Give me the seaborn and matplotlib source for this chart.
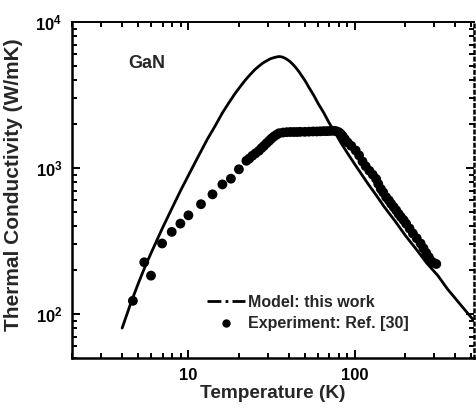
import numpy as np
import pandas as pd
import seaborn as sns
from matplotlib import pyplot as plt
from matplotlib.lines import Line2D

# model curve (T in K, kappa in W/mK)
model_T = [4.0, 4.5, 5.0, 5.5, 6.0, 7.0, 8.0, 9.0, 10.0, 11.5, 13.0, 14.5, 16.0, 17.5, 19.0,
           20.5, 22.0, 23.5, 25.0, 26.5, 28.0, 29.5, 31.0, 33.0, 35.0, 36.5, 38.0,
           39.5, 41.0, 42.5, 44.0, 46.0, 48.0, 50.5, 53.0, 56.5, 60.0, 65.0, 70.0,
           76.0, 82.0, 90.0, 100.0, 110.0, 120.0, 135.0, 150.0, 175.0, 200.0, 235.0,
           270.0, 315.0, 360.0, 430.0, 510.0]
model_k = [80, 118, 162, 212, 265, 390, 535, 705, 890, 1210, 1577, 1950, 2387, 2800, 3224,
           3620, 4015, 4370, 4710, 4990, 5240, 5430, 5600, 5730, 5810, 5770, 5660,
           5510, 5330, 5120, 4900, 4590, 4280, 3920, 3560, 3160, 2780, 2390, 2040,
           1750, 1503, 1270, 1057, 900, 778, 645, 542, 430, 347, 275,
           223, 183, 148, 116, 92]

# experimental points, Ref. [30]
exp_T = [4.64, 5.43, 5.96, 6.95, 7.94, 8.95, 10.0, 11.9, 13.95, 16.0, 18.0, 20.1,
         22.3, 23.2, 24.2, 25.3, 26.5, 27.5, 28.4, 29.5, 30.5, 31.5, 32.6, 33.8,
         35.0, 37.0, 39.0, 41.0, 43.0, 45.0, 47.0, 50.0, 53.0, 56.0, 59.0, 62.0,
         65.0, 68.0, 71.0, 74.0, 77.0, 80.0, 82.0, 84.3, 87.0, 90.4, 95.0, 101.0,
         106.0, 111.0, 116.0, 122.0, 128.0, 134.0, 138.0, 143.0, 148.0, 154.0, 160.0,
         165.0, 171.0, 177.0, 183.0, 189.0, 196.0, 203.0, 213.0, 223.0, 235.0, 248.0,
         258.0, 268.0, 278.0, 287.0, 297.0, 308.0]
exp_k = [123, 226, 183, 304, 365, 416, 474, 565, 660, 772, 845, 980,
         1121, 1160, 1213, 1260, 1312, 1370, 1418, 1480, 1534, 1590, 1644, 1690,
         1731, 1750, 1760, 1765, 1765, 1765, 1770, 1770, 1775, 1780, 1780, 1785,
         1790, 1790, 1795, 1800, 1790, 1760, 1720, 1660, 1580, 1497, 1420, 1320,
         1220, 1110, 1030, 959, 900, 842, 780, 720, 680, 631, 600,
         569, 540, 513, 485, 462, 440, 416, 385, 356, 330, 304,
         282, 262, 245, 230, 224, 220]

x_ticks = [10, 100]
x_tick_labels = ["10", "100"]
y_ticks = [1e2, 1e3, 1e4]
y_tick_labels = [r"$\mathbf{10^2}$", r"$\mathbf{10^3}$", r"$\mathbf{10^4}$"]

model = pd.DataFrame({"T": model_T, "k": model_k})
exp = pd.DataFrame({"T": exp_T, "k": exp_k})

sns.set_theme(style="ticks")
plt.rcParams["font.family"] = ["Liberation Sans", "DejaVu Sans"]
plt.rcParams["font.weight"] = "bold"
plt.rcParams["mathtext.fontset"] = "custom"
plt.rcParams["mathtext.bf"] = "Liberation Sans:bold"
plt.rcParams["mathtext.rm"] = "Liberation Sans:bold"

fig = plt.figure(figsize=(4.77, 4.09), dpi=100)
ax = fig.add_axes([0.151, 0.125, 0.843, 0.821])

sns.lineplot(data=model, x="T", y="k", color="black", linewidth=2.0, ax=ax, estimator=None)
sns.scatterplot(data=exp, x="T", y="k", color="black", s=50, edgecolor="none", ax=ax, zorder=3)

ax.set_xscale("log")
ax.set_yscale("log")
ax.set_xlim(2, 520)
ax.set_ylim(50, 1e4)

ax.set_xticks(x_ticks, labels=x_tick_labels)
ax.set_yticks(y_ticks, labels=y_tick_labels)
ax.tick_params(which="both", direction="in", top=True, right=True, width=1.4, colors="black",
               labelsize=12, pad=7)
ax.tick_params(which="major", length=6)
ax.tick_params(which="minor", length=3.5)

for side in ["left", "bottom", "top", "right"]:
    ax.spines[side].set_linewidth(1.8)
    ax.spines[side].set_color("black")
ax.spines["right"].set_linestyle(":")
ax.spines["top"].set_linewidth(1.4)

ax.set_xlabel("Temperature (K)", fontsize=13.7, fontweight="bold", labelpad=2)
ax.set_ylabel("Thermal Conductivity (W/mK)", fontsize=15, fontweight="bold")
ax.yaxis.set_label_coords(-0.123, 0.515)

ax.text(0.139, 0.878, "GaN", transform=ax.transAxes, fontsize=13, fontweight="bold",
        va="center", ha="left")

handles = [
    Line2D([], [], color="black", linewidth=2.0, linestyle=(0, (5, 1.5, 1, 1.5))),
    Line2D([], [], color="black", marker="o", markersize=5, linestyle="none"),
]
labels = ["Model: this work", "Experiment: Ref. [30]"]
ax.legend(handles, labels, loc="center left", bbox_to_anchor=(0.335, 0.133), frameon=False,
          fontsize=11.5, handlelength=2.4, handletextpad=0.2, labelspacing=0.4, borderpad=0,
          borderaxespad=0)

fig.savefig("out.png", dpi=100)
